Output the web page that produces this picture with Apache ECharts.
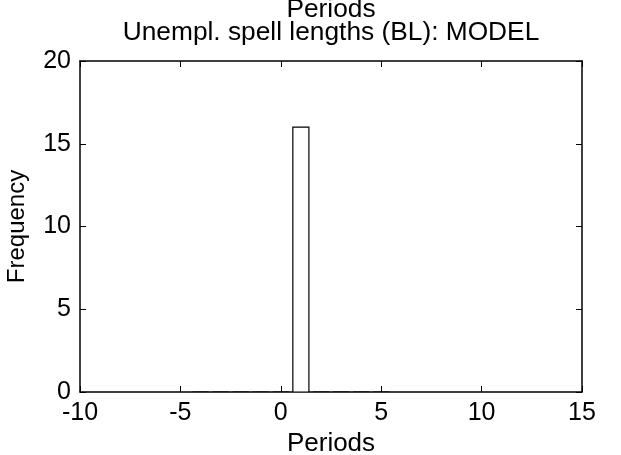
<!DOCTYPE html>
<html><head><meta charset="utf-8">
<script src="https://cdn.jsdelivr.net/npm/echarts@6/dist/echarts.min.js"></script>
<style>html,body{margin:0;padding:0;background:#fff}#c{width:621px;height:455px}</style>
</head><body><div id="c"></div>
<script>
const binCenters = [-4, -3, -2, -1, 0, 1, 2, 3, 4, 5];
const counts = [0, 0, 0, 0, 0, 16, 0, 0, 0, 0];
const barWidth = 0.8;
const xTicks = [-10, -5, 0, 5, 10, 15];
const yTicks = [0, 5, 10, 15, 20];
const titleLines = ['Periods', 'Unempl. spell lengths (BL): MODEL'];

const font = 'Liberation Sans, Arial, sans-serif';
const chart = echarts.init(document.getElementById('c'), null, {renderer: 'canvas'});
const data = binCenters.map((c, i) => [c, counts[i]]);
const axCommon = {
  axisLine: {show: true, onZero: false, lineStyle: {color: '#000', width: 1.5}},
  splitLine: {show: false}
};
const tick = {inside: true, length: 6, lineStyle: {color: '#000', width: 1}};
const gridL = 80, gridR = 39, gridT = 61, gridB = 63;
const plotCenterX = gridL + (621 - gridL - gridR) / 2;
chart.setOption({
  animation: false,
  backgroundColor: '#fff',
  graphic: titleLines.map((t, i) => ({
    type: 'text', x: plotCenterX, y: -3 + i * 23,
    style: {text: t, fontFamily: font, fontSize: 26.3, fill: '#000', align: 'center', verticalAlign: 'top'}
  })),
  grid: {left: gridL, right: gridR, top: gridT, bottom: gridB, containLabel: false, outerBoundsMode: 'none'},
  xAxis: [{
    type: 'value', min: xTicks[0], max: xTicks[xTicks.length - 1], interval: 5,
    name: 'Periods', nameLocation: 'middle', nameGap: 36,
    nameTextStyle: {fontFamily: font, fontSize: 26, color: '#000'},
    axisTick: tick,
    axisLabel: {fontFamily: font, fontSize: 25, color: '#000', margin: 9},
    ...axCommon
  }, {
    type: 'value', position: 'top', min: xTicks[0], max: xTicks[xTicks.length - 1], interval: 5,
    axisTick: tick,
    axisLabel: {show: false},
    ...axCommon
  }],
  yAxis: [{
    type: 'value', min: yTicks[0], max: yTicks[yTicks.length - 1], interval: 5,
    name: 'Frequency', nameLocation: 'middle', nameGap: 51, nameRotate: 90,
    nameTextStyle: {fontFamily: font, fontSize: 24, color: '#000'},
    axisTick: tick,
    axisLabel: {fontFamily: font, fontSize: 25, color: '#000', margin: 9},
    ...axCommon
  }, {
    type: 'value', position: 'right', min: yTicks[0], max: yTicks[yTicks.length - 1], interval: 5,
    axisTick: tick,
    axisLabel: {show: false},
    ...axCommon
  }],
  series: [{
    type: 'custom',
    data: data,
    clip: true,
    renderItem: function (params, api) {
      const x = api.value(0), y = api.value(1);
      const p0 = api.coord([x - barWidth / 2, 0]);
      const p1 = api.coord([x + barWidth / 2, y]);
      return {
        type: 'rect',
        shape: {x: p0[0], y: p1[1], width: p1[0] - p0[0], height: p0[1] - p1[1]},
        style: {fill: '#fff', stroke: '#000', lineWidth: 1.2}
      };
    }
  }]
});
</script></body></html>
